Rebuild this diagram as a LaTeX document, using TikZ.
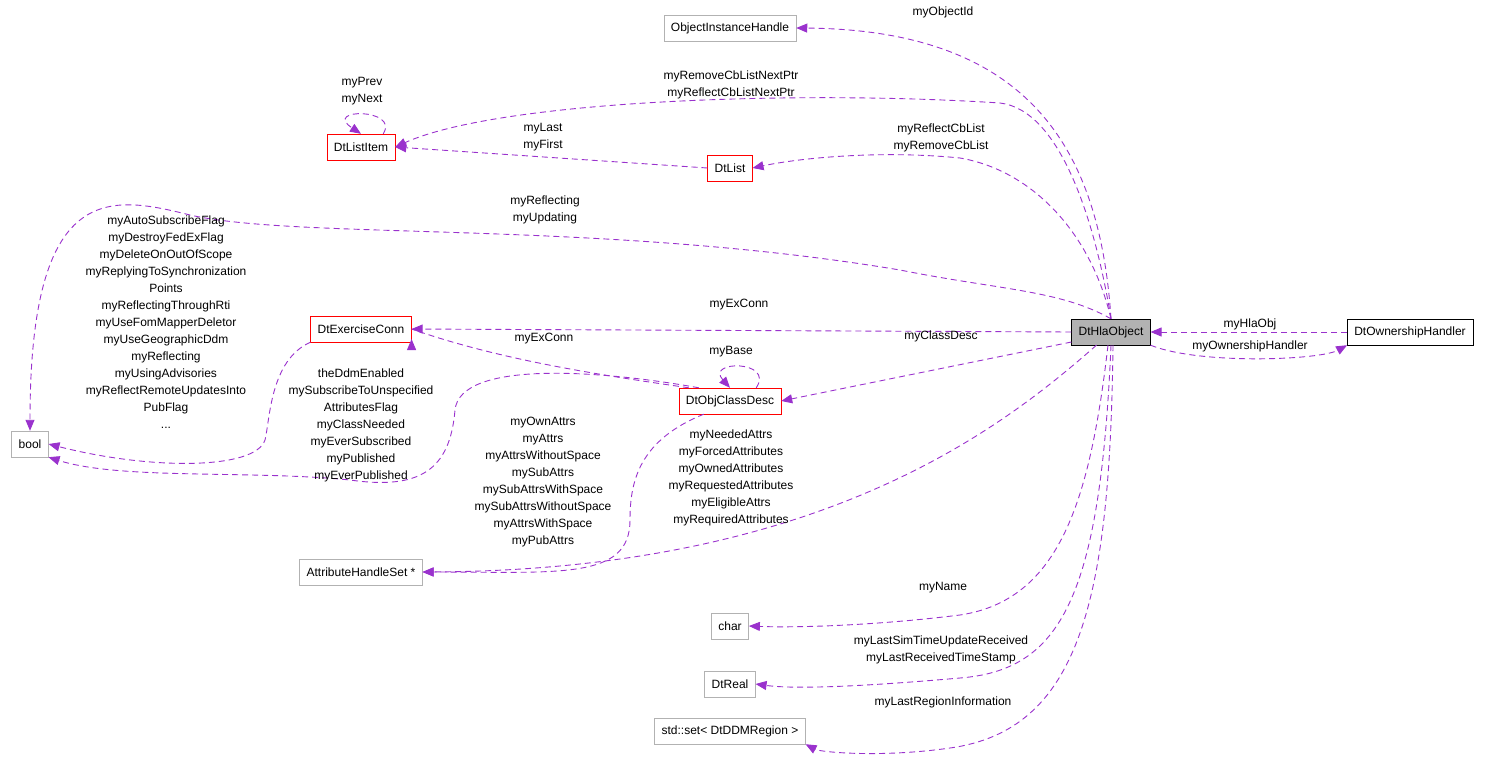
\documentclass[tikz,border=0pt]{standalone}
\usepackage{fontspec}
\setmainfont{Liberation Sans}
\usetikzlibrary{arrows.meta}
\definecolor{edge}{HTML}{9A32CD}
\begin{document}
\begin{tikzpicture}[x=1pt,y=-1pt,
  box/.style={draw=#1,fill=white,minimum height=26pt,inner xsep=7pt,font=\fontsize{12}{14}\selectfont},
  box/.default={black!30},
  lbl/.style={align=center,font=\fontsize{12}{17}\selectfont,inner sep=0pt},
  e/.style={edge,dashed,dash pattern=on 6pt off 4pt,line width=0.9pt,-{Triangle[length=11pt,width=9pt]}}]
\useasboundingbox (0,0) rectangle (1488,765);
\node[box] (oih) at (730,28) {ObjectInstanceHandle};
\node[box=red] (li) at (361,147) {DtListItem};
\node[box=red] (dl) at (730,168) {DtList};
\node[box] (bool) at (30,444) {bool};
\node[box=red] (ec) at (361,329) {DtExerciseConn};
\node[box=black,fill=black!30] (hla) at (1111,332) {DtHlaObject};
\node[box=black] (own) at (1410,332) {DtOwnershipHandler};
\node[box=red] (cd) at (730,401) {DtObjClassDesc};
\node[box] (ahs) at (361,572) {AttributeHandleSet *};
\node[box] (ch) at (730,626) {char};
\node[box] (dr) at (730,684) {DtReal};
\node[box] (ss) at (730,731) {std::set< DtDDMRegion >};

\draw[e] (hla.north) .. controls (1100,150) and (1030,30) .. (oih.east);
\node[lbl] (l1) at (943,12) {myObjectId};
\draw[e] (hla.north) .. controls (1095,220) and (1060,110) .. (1000,103) .. controls (800,90) and (500,100) .. (li.east);
\node[lbl] (l2) at (731,85) {myRemoveCbListNextPtr\\myReflectCbListNextPtr};
\draw[e] (hla.north) .. controls (1090,230) and (1030,170) .. (960,158) .. controls (880,150) and (800,158) .. (dl.east);
\node[lbl] (l3) at (941,138) {myReflectCbList\\myRemoveCbList};
\draw[e] (hla.north) .. controls (1060,290) and (1000,290) .. (900,270) .. controls (600,220) and (300,240) .. (190,215) .. controls (110,195) and (30,180) .. (bool.north);
\node[lbl] (l4) at (545,210) {myReflecting\\myUpdating};
\draw[e] (hla.west) -- (ec.east);
\node[lbl] (l5) at (739,305) {myExConn};
\draw[e] (hla.west) ++(0,10) -- (cd.east);
\node[lbl] (l6) at (941,336) {myClassDesc};
\draw[e] (hla.south west) ++(25,0) .. controls (1000,430) and (820,570) .. (ahs.east);
\node[lbl] (l7) at (731,478) {myNeededAttrs\\myForcedAttributes\\myOwnedAttributes\\myRequestedAttributes\\myEligibleAttrs\\myRequiredAttributes};
\draw[e] (hla.south) ++(-3,0) .. controls (1090,500) and (1060,600) .. (960,615) .. controls (880,625) and (800,628) .. (ch.east);
\node[lbl] (l8) at (943,588) {myName};
\draw[e] (hla.south) .. controls (1100,600) and (1060,670) .. (960,678) .. controls (880,685) and (800,690) .. (dr.east);
\node[lbl] (l9) at (941,650) {myLastSimTimeUpdateReceived\\myLastReceivedTimeStamp};
\draw[e] (hla.south) ++(2,0) .. controls (1110,600) and (1080,730) .. (950,748) .. controls (880,758) and (820,752) .. (ss.south east);
\node[lbl] (l10) at (943,702) {myLastRegionInformation};
\draw[e] (own.west) -- (hla.east);
\node[lbl] (l11) at (1250,324) {myHlaObj};
\draw[e] (hla.south east) .. controls (1200,365) and (1320,360) .. (own.south west);
\node[lbl] (l12) at (1250,346) {myOwnershipHandler};
\draw[e] (dl.west) -- (li.east);
\node[lbl] (l13) at (543,137) {myLast\\myFirst};
\draw[e] (li.north east) ++(-12,0) .. controls (400,108) and (322,108) .. (li.north);
\node[lbl] (l14) at (362,91) {myPrev\\myNext};
\draw[e] (cd.north east) ++(-25,0) .. controls (775,360) and (705,360) .. (cd.north);
\node[lbl] (l15) at (731,352) {myBase};
\draw[e] (cd.north west) ++(10,0) .. controls (600,375) and (500,360) .. (ec.east) ++(0,10);
\node[lbl] (l16) at (544,339) {myExConn};
\draw[e] (cd.north west) ++(20,0) .. controls (600,370) and (460,360) .. (455,410) .. controls (450,470) and (420,490) .. (350,480) .. controls (250,470) and (120,480) .. (bool.south east);
\node[lbl] (l17) at (361,425) {theDdmEnabled\\mySubscribeToUnspecified\\AttributesFlag\\myClassNeeded\\myEverSubscribed\\myPublished\\myEverPublished};
\draw[e] (ec.south west) ++(0,0) .. controls (270,360) and (270,420) .. (265,440) .. controls (255,470) and (150,470) .. (bool.east);
\node[lbl] (l18) at (166,322) {myAutoSubscribeFlag\\myDestroyFedExFlag\\myDeleteOnOutOfScope\\myReplyingToSynchronization\\Points\\myReflectingThroughRti\\myUseFomMapperDeletor\\myUseGeographicDdm\\myReflecting\\myUsingAdvisories\\myReflectRemoteUpdatesInto\\PubFlag\\...};
\draw[e] (cd.south west) ++(25,0) .. controls (640,440) and (630,480) .. (630,520) .. controls (630,580) and (560,572) .. (ahs.east);
\node[lbl] (l19) at (543,482) {myOwnAttrs\\myAttrs\\myAttrsWithoutSpace\\mySubAttrs\\mySubAttrsWithSpace\\mySubAttrsWithoutSpace\\myAttrsWithSpace\\myPubAttrs};
\end{tikzpicture}
\end{document}
